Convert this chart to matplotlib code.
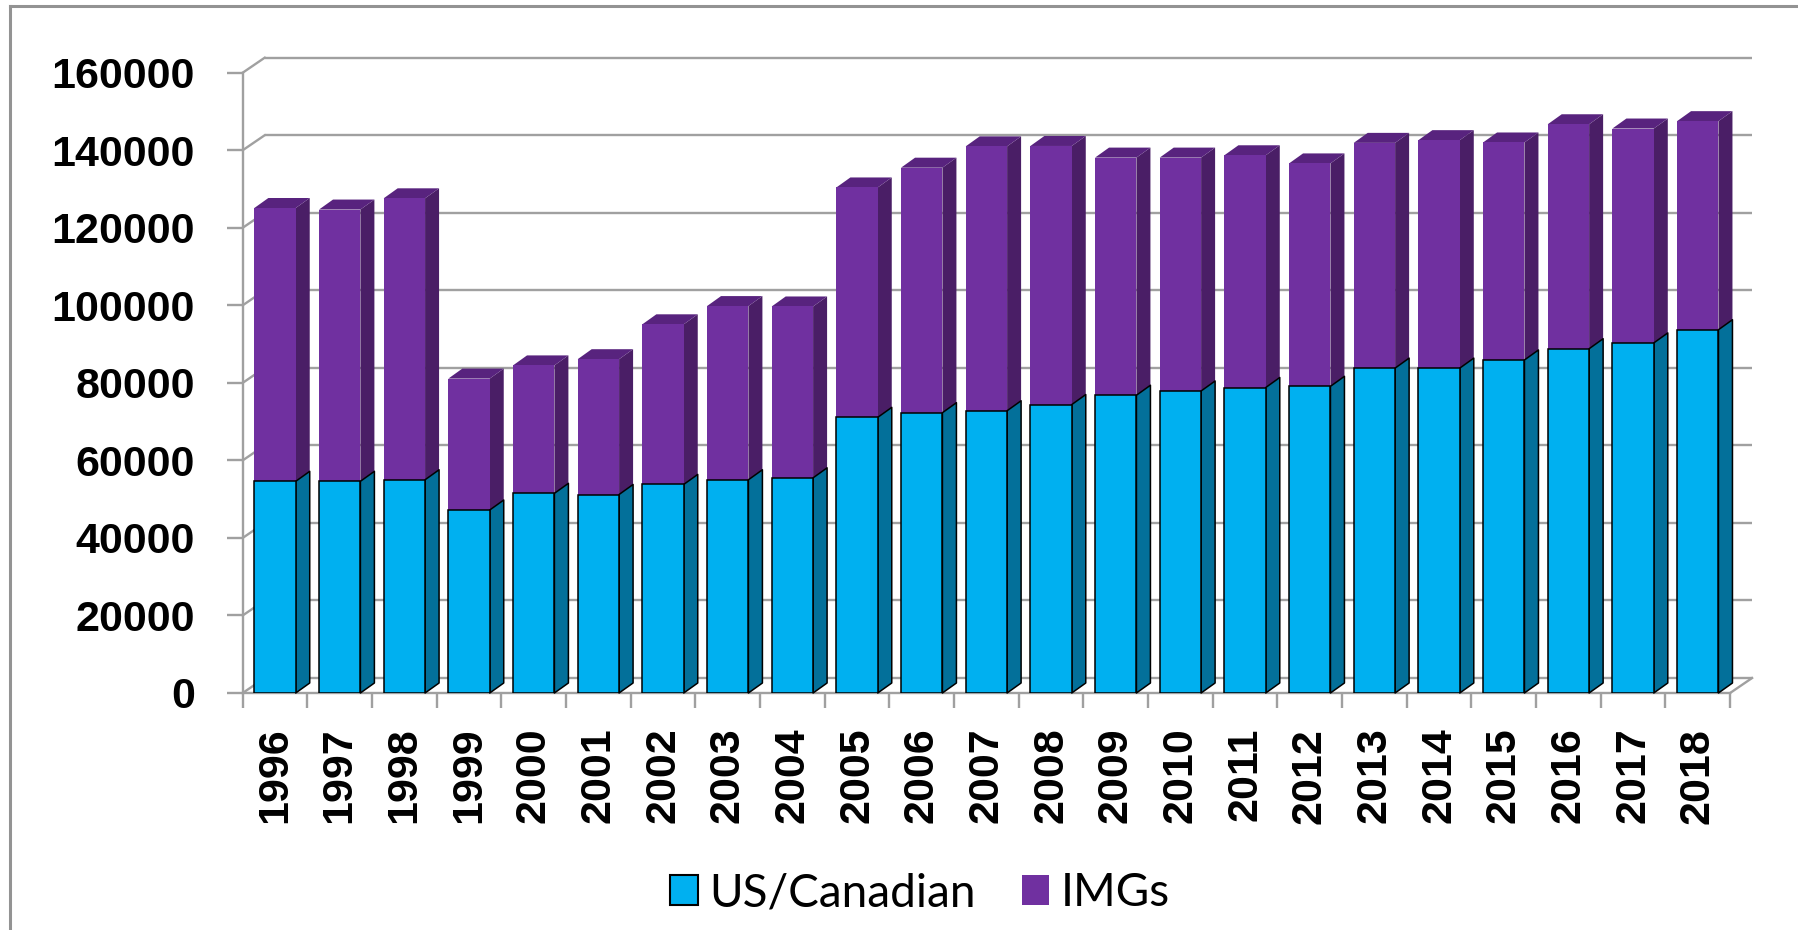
import matplotlib
matplotlib.use("Agg")
import matplotlib.pyplot as plt
import numpy as np
from matplotlib.collections import PolyCollection
from matplotlib.lines import Line2D
from matplotlib.patches import Patch

years = ["1996", "1997", "1998", "1999", "2000", "2001", "2002", "2003", "2004",
         "2005", "2006", "2007", "2008", "2009", "2010", "2011", "2012", "2013",
         "2014", "2015", "2016", "2017", "2018"]
us_canadian = [54600, 54600, 55000, 47200, 51500, 51200, 53800, 55000, 55500,
               71100, 72300, 72800, 74400, 76800, 77900, 78800, 79100, 83800,
               83800, 85900, 88800, 90300, 93700]
imgs = [70500, 70100, 72600, 33900, 33000, 34900, 41300, 44800, 44200,
        59300, 63200, 68200, 66700, 61300, 60200, 59900, 57500, 58100,
        58800, 56100, 57900, 55300, 53800]
series_names = ["US/Canadian", "IMGs"]
y_ticks = [0, 20000, 40000, 60000, 80000, 100000, 120000, 140000, 160000]

BLUE, BLUE_SIDE = "#00B0F0", "#03709A"
PURPLE, PURPLE_SIDE, PURPLE_TOP = "#7030A0", "#4A1E66", "#58237E"
GRID = "#A0A0A0"

W, H = 1798, 930
fig = plt.figure(figsize=(W / 100, H / 100), dpi=100)
ax_l, ax_r, ax_b, ax_t = 242.7, 1730.1, 693.0, 72.7
ax = fig.add_axes([ax_l / W, 1 - ax_b / H, (ax_r - ax_l) / W, (ax_b - ax_t) / H])
ymax = y_ticks[-1]
ax.set_xlim(-0.5, len(years) - 0.5)
ax.set_ylim(0, ymax)

# pixel -> data conversions for the pseudo-3D offsets
px_x = (len(years)) / (ax_r - ax_l)
px_y = ymax / (ax_b - ax_t)
wall_dx, wall_dy = 22 * px_x, 15 * px_y
bar_dx, bar_dy = 14 * px_x, 10 * px_y

x = np.arange(len(years))
us = np.array(us_canadian, dtype=float)
im = np.array(imgs, dtype=float)
tot = us + im
bw = 0.64

x0, x1 = -0.5, len(years) - 0.5
# back wall gridlines and left wall diagonals
for v in y_ticks:
    ax.plot([x0 + wall_dx, x1 + wall_dx], [v + wall_dy, v + wall_dy], color=GRID,
            lw=1.7, clip_on=False, zorder=0.5, solid_capstyle="butt")
    ax.plot([x0, x0 + wall_dx], [v, v + wall_dy], color=GRID, lw=1.7,
            clip_on=False, zorder=0.5)
# floor right edge
ax.plot([x1, x1 + wall_dx], [0, wall_dy], color=GRID, lw=1.7, clip_on=False, zorder=0.5)

# side and top faces
def side_polys(bottom, top):
    return [[(xi + bw / 2, b), (xi + bw / 2 + bar_dx, b + bar_dy),
             (xi + bw / 2 + bar_dx, t + bar_dy), (xi + bw / 2, t)]
            for xi, b, t in zip(x, bottom, top)]

def top_polys(top):
    return [[(xi - bw / 2, t), (xi + bw / 2, t), (xi + bw / 2 + bar_dx, t + bar_dy),
             (xi - bw / 2 + bar_dx, t + bar_dy)] for xi, t in zip(x, top)]

ax.add_collection(PolyCollection(side_polys(us, tot), facecolors=PURPLE_SIDE,
                                 edgecolors="none", zorder=2, clip_on=False))
ax.add_collection(PolyCollection(top_polys(tot), facecolors=PURPLE_TOP,
                                 edgecolors="none", zorder=2, clip_on=False))
ax.add_collection(PolyCollection(side_polys(np.zeros_like(us), us), facecolors=BLUE_SIDE,
                                 edgecolors="black", linewidths=1.1, zorder=3,
                                 clip_on=False))

ax.bar(x, im, bottom=us, width=bw, color=PURPLE, edgecolor="none", zorder=2,
       clip_on=False)
ax.bar(x, us, width=bw, color=BLUE, edgecolor="black", linewidth=1.1, zorder=3)

# axes styling
for s in ["top", "right"]:
    ax.spines[s].set_visible(False)
for s in ["left", "bottom"]:
    ax.spines[s].set_color(GRID)
    ax.spines[s].set_linewidth(1.7)
    ax.spines[s].set_zorder(0.6)

ax.set_yticks(y_ticks)
ax.set_yticklabels([str(v) for v in y_ticks], fontsize=31, fontweight="bold",
                   family="Liberation Sans")
ax.tick_params(axis="y", length=11.5, width=1.7, color=GRID, pad=23)

ax.set_xticks(x)
ax.set_xticklabels(years, rotation=90, fontsize=31, fontweight="bold",
                   family="Liberation Sans", va="top", ha="center")
ax.tick_params(axis="x", which="major", length=0, pad=25)
ax.set_xticks(np.arange(len(years) + 1) - 0.5, minor=True)
ax.tick_params(axis="x", which="minor", length=11, width=1.7, color=GRID)
ax.patch.set_visible(False)

# legend
handles = [Patch(facecolor=BLUE, edgecolor="black", linewidth=1.5),
           Patch(facecolor=PURPLE, edgecolor="none")]
fig.legend(handles, series_names, loc="center", bbox_to_anchor=(920 / W, 1 - 893 / H),
           ncol=2, frameon=False, prop={"family": "Lato", "size": 33},
           handlelength=0.6, handleheight=0.62, handletextpad=0.25,
           columnspacing=1.0)

# outer border (left and top edges visible)
fig.add_artist(Line2D([10 / W, 10 / W], [0, 1 - 6 / H], color="#939393", lw=2.2))
fig.add_artist(Line2D([10 / W, 1], [1 - 6 / H, 1 - 6 / H], color="#939393", lw=2.2))

fig.savefig("out.png", dpi=100)
